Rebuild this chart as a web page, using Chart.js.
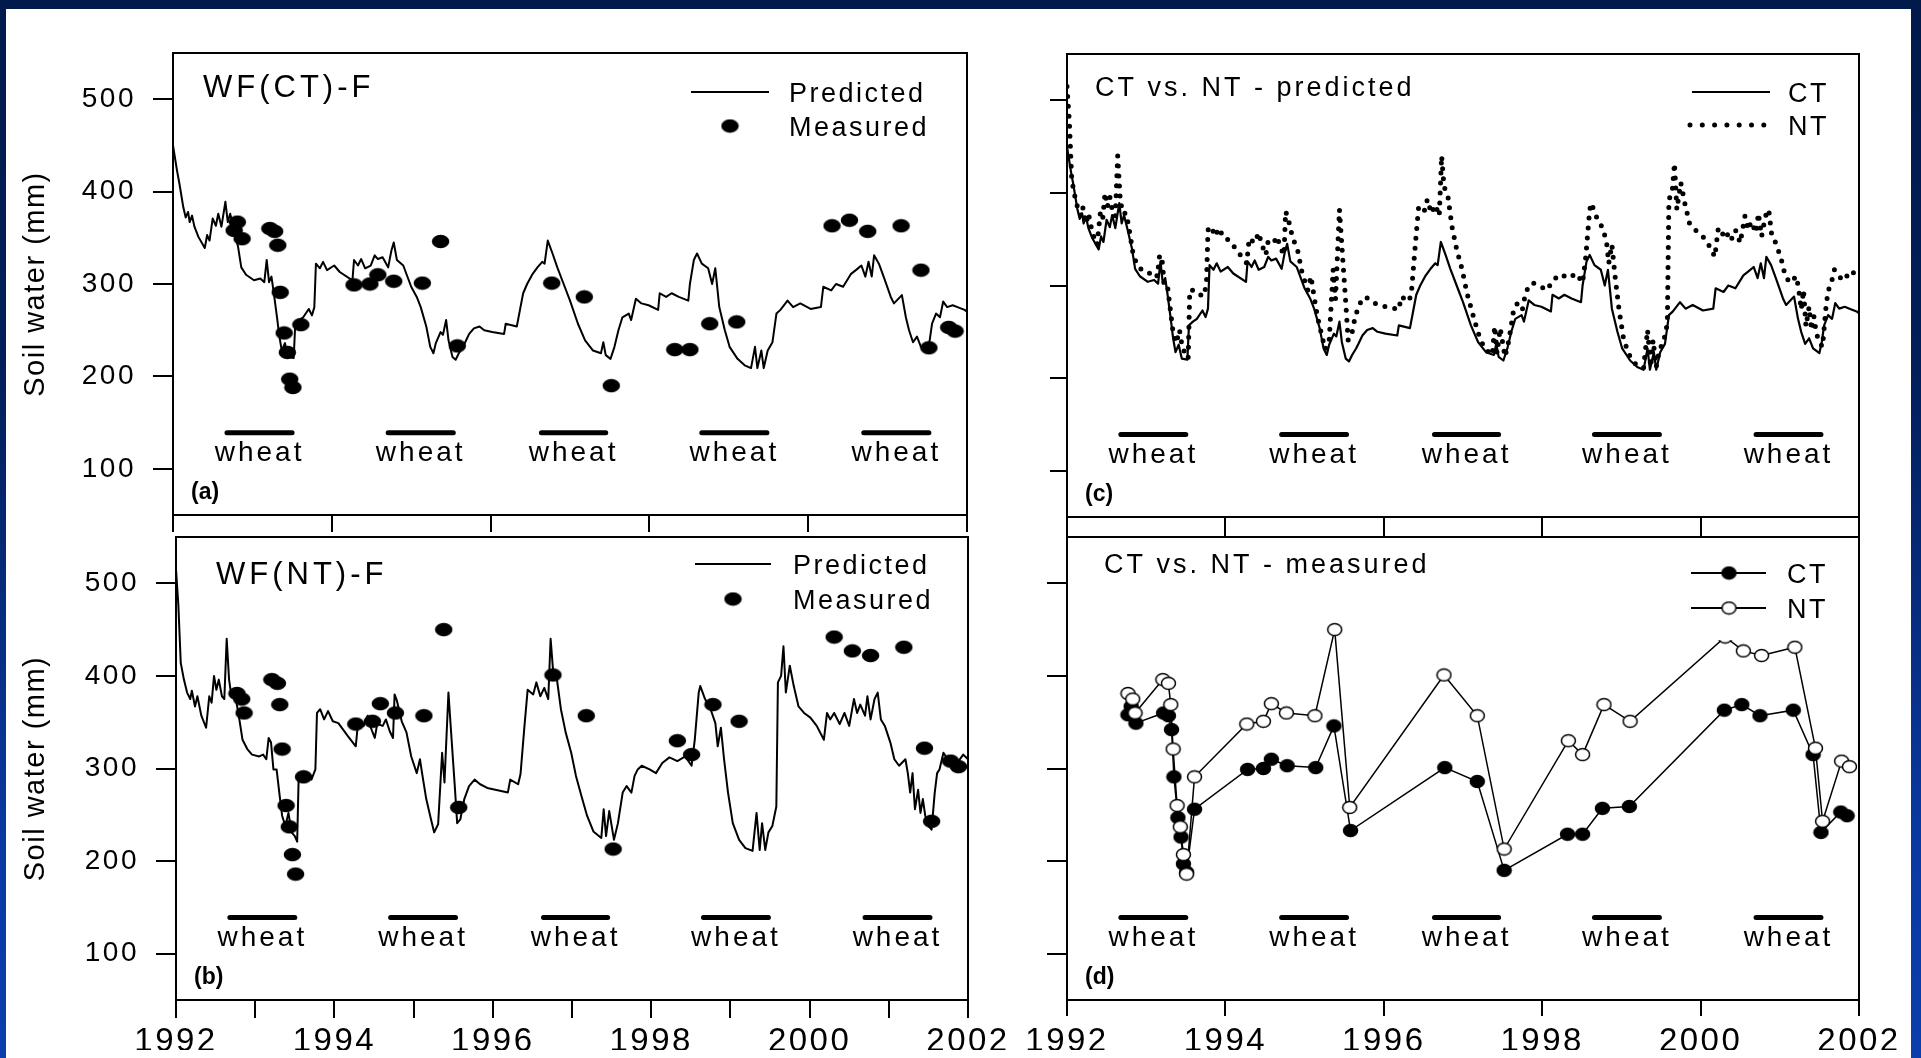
<!DOCTYPE html>
<html>
<head>
<meta charset="utf-8">
<script src="https://cdn.jsdelivr.net/npm/chart.js@4.4.0/dist/chart.umd.min.js"></script>
<style>
  html, body { margin: 0; padding: 0; }
  body {
    width: 1921px; height: 1058px; overflow: hidden; position: relative;
    background: linear-gradient(to bottom, #011a4b 0%, #021f5a 35%, #0a39a2 80%, #0b3dac 100%);
  }
  #sheet { position: absolute; left: 6px; top: 9px; width: 1905px; height: 1049px; background: #fff; }
  canvas { position: absolute; left: 0; top: 0; }
</style>
</head>
<body>
<div id="sheet"></div>
<canvas id="panelA" width="1921" height="1058"></canvas>
<canvas id="panelB" width="1921" height="1058"></canvas>
<canvas id="panelC" width="1921" height="1058"></canvas>
<canvas id="panelD" width="1921" height="1058"></canvas>
<script>
const FONT = '"Liberation Sans", Arial, sans-serif';

// Predicted soil water, conventional till (CT)
const ctPredYear = [1992.00,1992.05,1992.08,1992.13,1992.16,1992.19,1992.21,1992.24,1992.27,1992.32,
  1992.40,1992.43,1992.46,1992.50,1992.54,1992.57,1992.61,1992.66,1992.69,1992.72,
  1992.76,1992.82,1992.86,1992.92,1993.02,1993.10,1993.15,1993.18,1993.21,1993.24,
  1993.27,1993.31,1993.34,1993.37,1993.41,1993.45,1993.52,1993.54,1993.59,1993.64,
  1993.71,1993.75,1993.78,1993.80,1993.85,1993.89,1993.94,1994.03,1994.10,1994.26,
  1994.28,1994.33,1994.37,1994.42,1994.49,1994.54,1994.58,1994.64,1994.71,1994.75,
  1994.78,1994.82,1994.90,1995.00,1995.07,1995.12,1995.19,1995.24,1995.28,1995.31,
  1995.37,1995.40,1995.44,1995.47,1995.52,1995.56,1995.60,1995.65,1995.68,1995.73,
  1995.79,1995.86,1995.92,1996.02,1996.17,1996.19,1996.33,1996.37,1996.41,1996.46,
  1996.53,1996.59,1996.65,1996.68,1996.72,1996.78,1996.84,1996.92,1997.00,1997.10,
  1997.19,1997.29,1997.39,1997.42,1997.45,1997.51,1997.56,1997.61,1997.66,1997.74,
  1997.77,1997.83,1997.90,1997.99,1998.11,1998.13,1998.21,1998.28,1998.37,1998.49,
  1998.51,1998.56,1998.60,1998.66,1998.74,1998.79,1998.83,1998.88,1998.95,1999.01,
  1999.11,1999.20,1999.28,1999.33,1999.36,1999.41,1999.44,1999.49,1999.55,1999.60,
  1999.65,1999.74,1999.81,1999.90,2000.03,2000.16,2000.19,2000.29,2000.35,2000.44,
  2000.54,2000.60,2000.67,2000.72,2000.76,2000.80,2000.83,2000.89,2000.95,2001.04,
  2001.08,2001.18,2001.23,2001.27,2001.32,2001.37,2001.42,2001.50,2001.53,2001.56,
  2001.61,2001.66,2001.70,2001.75,2001.82,2001.88,2001.97,2002.00];
const ctPredSW = [450,423,409,383,372,378,367,374,362,351,
  339,353,347,371,363,376,362,389,367,376,
  362,340,318,310,304,306,302,326,302,308,
  290,264,243,228,236,221,220,257,261,264,
  273,266,275,322,317,324,315,320,313,304,
  326,320,327,317,320,331,327,329,318,336,
  345,326,320,297,286,275,254,232,225,236,
  248,245,261,239,221,218,225,232,237,246,
  252,254,250,248,246,257,254,272,290,300,
  311,318,324,322,347,333,318,300,282,257,
  239,228,225,237,223,219,232,250,264,268,
  261,284,279,277,272,290,286,290,286,282,
  300,326,333,322,317,300,317,275,250,232,
  219,212,209,232,209,228,209,228,237,268,
  272,282,275,279,273,275,297,293,300,297,
  311,315,320,308,324,308,331,322,308,286,
  279,288,264,250,237,243,232,227,239,257,
  268,264,281,275,277,275,272,270];

// Predicted soil water, no-till (NT)
const ntPredYear = [1992.00,1992.03,1992.06,1992.10,1992.14,1992.18,1992.20,1992.24,1992.27,1992.32,
  1992.38,1992.42,1992.45,1992.48,1992.51,1992.54,1992.58,1992.61,1992.64,1992.67,
  1992.70,1992.75,1992.80,1992.84,1992.90,1992.96,1993.05,1993.10,1993.14,1993.17,
  1993.20,1993.23,1993.27,1993.31,1993.34,1993.38,1993.42,1993.46,1993.50,1993.53,
  1993.55,1993.61,1993.66,1993.71,1993.76,1993.78,1993.82,1993.87,1993.92,1993.98,
  1994.05,1994.11,1994.17,1994.27,1994.30,1994.37,1994.42,1994.46,1994.51,1994.54,
  1994.61,1994.65,1994.70,1994.74,1994.76,1994.79,1994.85,1994.91,1994.97,1995.04,
  1995.08,1995.12,1995.16,1995.22,1995.26,1995.31,1995.36,1995.39,1995.44,1995.48,
  1995.52,1995.55,1995.59,1995.64,1995.70,1995.77,1995.84,1995.93,1996.09,1996.19,
  1996.22,1996.32,1996.35,1996.40,1996.44,1996.51,1996.55,1996.60,1996.65,1996.70,
  1996.73,1996.76,1996.81,1996.86,1996.92,1996.99,1997.05,1997.12,1997.19,1997.27,
  1997.37,1997.40,1997.43,1997.47,1997.53,1997.58,1997.64,1997.69,1997.75,1997.79,
  1997.83,1997.88,1997.98,1998.06,1998.14,1998.23,1998.33,1998.43,1998.51,1998.55,
  1998.60,1998.62,1998.68,1998.75,1998.81,1998.84,1998.88,1998.92,1998.97,1999.03,
  1999.11,1999.19,1999.28,1999.33,1999.37,1999.40,1999.44,1999.48,1999.53,1999.58,
  1999.60,1999.64,1999.67,1999.70,1999.75,1999.80,1999.86,1999.93,2000.01,2000.09,
  2000.18,2000.22,2000.26,2000.31,2000.38,2000.44,2000.50,2000.56,2000.60,2000.64,
  2000.70,2000.73,2000.77,2000.82,2000.86,2000.90,2000.95,2001.02,2001.07,2001.13,
  2001.21,2001.24,2001.27,2001.30,2001.33,2001.37,2001.40,2001.43,2001.46,2001.50,
  2001.54,2001.58,2001.61,2001.64,2001.69,2001.72,2001.77,2001.81,2001.88,2001.94,
  2002.00];
const ntPredSW = [515,476,414,396,382,375,384,367,378,357,
  344,378,371,400,385,396,378,375,440,396,
  378,378,353,331,321,315,313,315,310,333,
  328,299,299,270,249,238,252,231,227,221,
  295,295,292,288,299,360,364,353,362,351,
  349,342,335,324,351,346,357,344,333,348,
  346,353,340,333,380,373,351,339,313,295,
  310,288,267,245,231,240,317,285,382,331,
  281,241,245,267,281,288,283,279,276,274,
  288,283,294,346,385,380,393,378,387,375,
  440,407,396,364,339,317,292,270,249,232,
  225,256,227,254,223,241,274,281,274,292,
  299,303,299,295,306,312,308,313,303,331,
  382,389,375,364,349,324,344,310,274,241,
  223,214,211,252,212,241,212,231,238,259,
  393,400,432,382,411,389,367,360,355,346,
  331,360,353,360,348,360,346,375,360,369,
  357,378,353,375,382,353,346,328,310,303,
  310,295,274,295,256,277,252,267,249,238,
  234,274,295,299,317,313,308,313,308,315,
  310];

// Measured soil water
const ctMeasYear = [1992.77,1992.81,1992.87,1993.22,1993.28,1993.32,1993.35,1993.40,1993.44,1993.47,
  1993.51,1993.61,1994.28,1994.48,1994.58,1994.78,1995.14,1995.37,1995.58,1996.77,
  1997.18,1997.52,1998.32,1998.51,1998.76,1999.10,2000.30,2000.52,2000.75,2001.17,
  2001.42,2001.52,2001.77,2001.85];
const ctMeasSW = [358,367,349,360,357,342,291,247,226,197,
  188,256,299,300,310,303,301,346,233,301,
  286,190,229,229,257,259,363,369,357,363,
  315,231,253,249];
const ntMeasYear = [1992.77,1992.83,1992.86,1993.21,1993.28,1993.31,1993.34,1993.39,1993.43,1993.47,
  1993.51,1993.61,1994.27,1994.48,1994.58,1994.77,1995.13,1995.38,1995.57,1996.76,
  1997.18,1997.52,1998.33,1998.51,1998.78,1999.11,2000.31,2000.54,2000.77,2001.19,
  2001.45,2001.54,2001.78,2001.88];
const ntMeasSW = [381,375,360,396,392,369,321,260,237,207,
  186,291,348,351,370,360,357,450,258,401,
  357,213,330,315,369,351,442,427,422,431,
  322,243,308,302];

// Wheat growing seasons
const wheatStart = [1992.68, 1994.71, 1996.64, 1998.66, 2000.70];
const wheatEnd = [1993.50, 1995.53, 1997.45, 1999.48, 2001.52];
const wheatLevel = 139;
const wheatTextLevel = 108;

// Axis ticks
const yTickValues = [100, 200, 300, 400, 500];
const evenYears = [1992, 1994, 1996, 1998, 2000, 2002];
const allYears = [1992, 1993, 1994, 1995, 1996, 1997, 1998, 1999, 2000, 2001, 2002];
const yTitle = 'Soil water (mm)';

const pts = (xs, ys) => xs.map((x, i) => ({ x, y: ys[i] }));

function wheatSet() {
    const data = [];
    wheatStart.forEach((s, i) => {
        data.push({ x: s, y: wheatLevel }, { x: wheatEnd[i], y: wheatLevel }, { x: wheatEnd[i] + 0.01, y: null });
    });
    return { data, borderColor: '#000', borderWidth: 5, borderCapStyle: 'round', pointRadius: 0, order: 3 };
}

// marker images (the symbols in the figure are a bit wider than tall)
function ellipse(w, h, fill) {
    const c = document.createElement('canvas');
    c.width = w + 2; c.height = h + 2;
    const g = c.getContext('2d');
    g.beginPath();
    g.ellipse(c.width / 2, c.height / 2, w / 2 - 0.5, h / 2 - 0.5, 0, 0, Math.PI * 2);
    g.fillStyle = fill; g.fill();
    g.lineWidth = 1.5; g.strokeStyle = '#000'; g.stroke();
    return c;
}
const dotBig = ellipse(17, 13, '#000');
const dotFilled = ellipse(15, 13, '#000');
const dotOpen = ellipse(15, 13, '#fff');

// box, titles, legends and wheat labels
const panelDecor = {
    id: 'panelDecor',
    beforeDraw(chart) {
        chart.ctx.letterSpacing = '2.5px';
    },
    afterDatasetsDraw(chart, args, o) {
        const { ctx, chartArea: a, scales: { x, y } } = chart;
        ctx.save();
        ctx.fillStyle = '#000';
        ctx.strokeStyle = '#000';

        // wheat labels
        ctx.letterSpacing = '3px';
        ctx.font = `28px ${FONT}`;
        ctx.textAlign = 'center';
        ctx.textBaseline = 'alphabetic';
        wheatStart.forEach((s, i) => {
            ctx.fillText('wheat', x.getPixelForValue((s + wheatEnd[i]) / 2), y.getPixelForValue(wheatTextLevel));
        });

        // y axis title
        if (o.yTitle) {
            ctx.save();
            ctx.letterSpacing = '1.5px';
            ctx.font = `29px ${FONT}`;
            ctx.textBaseline = 'middle';
            ctx.translate(36, (a.top + a.bottom) / 2);
            ctx.rotate(-Math.PI / 2);
            ctx.fillText(yTitle, 0, 0);
            ctx.restore();
        }

        // legend
        if (o.legendBox) {
            ctx.fillStyle = '#fff';
            ctx.fillRect(...o.legendBox);
            ctx.fillStyle = '#000';
        }
        ctx.textAlign = 'left';
        ctx.letterSpacing = '2.5px';
        ctx.font = `27px ${FONT}`;
        o.legend.forEach(item => {
            if (item.x1 !== undefined) {
                ctx.beginPath();
                if (item.dotted) {
                    ctx.setLineDash([0, 12.3]);
                    ctx.lineCap = 'round';
                    ctx.lineWidth = 5;
                } else {
                    ctx.setLineDash([]);
                    ctx.lineCap = 'butt';
                    ctx.lineWidth = 2;
                }
                ctx.moveTo(item.x1, item.y);
                ctx.lineTo(item.x2, item.y);
                ctx.stroke();
                ctx.setLineDash([]);
            }
            if (item.mark) {
                ctx.drawImage(item.mark, item.mx - item.mark.width / 2, item.y - item.mark.height / 2);
            }
            ctx.fillText(item.text, o.legendX, item.y + 9.5);
        });

        // title
        ctx.letterSpacing = o.titleSpacing;
        ctx.font = `${o.titleSize}px ${FONT}`;
        ctx.fillText(o.title, a.left + o.titleDx, o.titleBase);

        // panel tag
        ctx.letterSpacing = '0px';
        ctx.font = `bold 23px ${FONT}`;
        ctx.fillText(o.tag, a.left + 18, a.bottom - 16);

        // frame
        ctx.lineWidth = 2;
        ctx.strokeRect(a.left, a.top, a.right - a.left, a.bottom - a.top);
        ctx.restore();
    }
};

function makePanel(id, rect, opts) {
    const W = 160, H = 50;
    return new Chart(document.getElementById(id), {
        type: 'line',
        data: { datasets: opts.datasets },
        options: {
            responsive: false,
            animation: false,
            events: [],
            layout: { padding: { left: rect.l - W, top: rect.t, right: 1921 - rect.r, bottom: 1058 - rect.b - H } },
            plugins: {
                legend: { display: false },
                tooltip: { enabled: false },
                panelDecor: opts.decor
            },
            scales: {
                x: {
                    type: 'linear',
                    min: 1992,
                    max: 2002,
                    afterBuildTicks: s => { s.ticks = opts.xTicks.map(v => ({ value: v })); },
                    ticks: {
                        display: opts.xLabels,
                        autoSkip: false,
                        maxRotation: 0,
                        minRotation: 0,
                        padding: opts.xPad,
                        color: '#000',
                        font: { family: FONT, size: 33, lineHeight: 1 },
                        callback: v => evenYears.includes(v) ? String(v) : ''
                    },
                    grid: { drawOnChartArea: false, tickLength: opts.xTick, color: '#000', lineWidth: 2 },
                    border: { display: false },
                    afterFit: s => { s.height = H; s.paddingLeft = 0; s.paddingRight = 0; }
                },
                y: {
                    min: 50,
                    max: 550,
                    afterBuildTicks: s => { s.ticks = yTickValues.map(v => ({ value: v })); },
                    ticks: {
                        display: opts.yLabels,
                        padding: 17,
                        color: '#000',
                        font: { family: FONT, size: 28, lineHeight: 1 }
                    },
                    grid: { drawOnChartArea: false, tickLength: opts.yTick, color: '#000', lineWidth: 2 },
                    border: { display: false },
                    afterFit: s => { s.width = W; s.paddingTop = 0; s.paddingBottom = 0; }
                }
            }
        },
        plugins: [panelDecor]
    });
}

// (a) WF(CT)-F
makePanel('panelA', { l: 173, t: 53, r: 967, b: 515 }, {
    xTicks: evenYears, xLabels: false, xTick: 17, xPad: 0,
    yLabels: true, yTick: 20,
    datasets: [
        { data: pts(ctMeasYear, ctMeasSW), showLine: false, pointStyle: dotBig, pointRadius: 8, order: 0 },
        { data: pts(ctPredYear, ctPredSW), borderColor: '#000', borderWidth: 2, borderJoinStyle: 'round', pointRadius: 0, order: 1 },
        wheatSet()
    ],
    decor: {
        title: 'WF(CT)-F', titleSize: 31, titleSpacing: '4px', titleDx: 30, titleBase: 97, tag: '(a)', yTitle: true,
        legendX: 789,
        legend: [
            { text: 'Predicted', y: 92, x1: 691, x2: 769 },
            { text: 'Measured', y: 126, mark: dotBig, mx: 730 }
        ]
    }
});

// (b) WF(NT)-F
makePanel('panelB', { l: 176, t: 537, r: 968, b: 1000 }, {
    xTicks: allYears, xLabels: true, xTick: 18, xPad: 7,
    yLabels: true, yTick: 20,
    datasets: [
        { data: pts(ntMeasYear, ntMeasSW), showLine: false, pointStyle: dotBig, pointRadius: 8, order: 0 },
        { data: pts(ntPredYear, ntPredSW), borderColor: '#000', borderWidth: 2, borderJoinStyle: 'round', pointRadius: 0, order: 1 },
        wheatSet()
    ],
    decor: {
        title: 'WF(NT)-F', titleSize: 31, titleSpacing: '4px', titleDx: 40, titleBase: 584, tag: '(b)', yTitle: true,
        legendX: 793,
        legend: [
            { text: 'Predicted', y: 564, x1: 695, x2: 771 },
            { text: 'Measured', y: 599, mark: dotBig, mx: 733 }
        ]
    }
});

// (c) CT vs. NT - predicted
makePanel('panelC', { l: 1067, t: 54, r: 1859, b: 517 }, {
    xTicks: evenYears, xLabels: false, xTick: 20, xPad: 0,
    yLabels: false, yTick: 17,
    datasets: [
        { data: pts(ntPredYear, ntPredSW), borderColor: '#000', borderWidth: 5, borderDash: [0, 10], borderCapStyle: 'round', pointRadius: 0, order: 0 },
        { data: pts(ctPredYear, ctPredSW), borderColor: '#000', borderWidth: 2.2, borderJoinStyle: 'round', pointRadius: 0, order: 1 },
        wheatSet()
    ],
    decor: {
        title: 'CT vs. NT - predicted', titleSize: 27, titleSpacing: '3px', titleDx: 28, titleBase: 96, tag: '(c)',
        legendX: 1788,
        legend: [
            { text: 'CT', y: 92, x1: 1692, x2: 1770 },
            { text: 'NT', y: 125, x1: 1690, x2: 1765, dotted: true }
        ]
    }
});

// (d) CT vs. NT - measured
makePanel('panelD', { l: 1067, t: 537, r: 1859, b: 1000 }, {
    xTicks: evenYears, xLabels: true, xTick: 16, xPad: 9,
    yLabels: false, yTick: 20,
    datasets: [
        { data: pts(ntMeasYear, ntMeasSW), borderColor: '#000', borderWidth: 1.5, pointStyle: dotOpen, pointRadius: 8, order: 0 },
        { data: pts(ctMeasYear, ctMeasSW), borderColor: '#000', borderWidth: 1.5, pointStyle: dotFilled, pointRadius: 8, order: 1 },
        wheatSet()
    ],
    decor: {
        title: 'CT vs. NT - measured', titleSize: 27, titleSpacing: '3px', titleDx: 37, titleBase: 573, tag: '(d)',
        legendX: 1787,
        legendBox: [1676, 545, 181, 95],
        legend: [
            { text: 'CT', y: 573, x1: 1691, x2: 1766, mark: dotFilled, mx: 1729 },
            { text: 'NT', y: 608, x1: 1691, x2: 1766, mark: dotOpen, mx: 1729 }
        ]
    }
});
</script>
</body>
</html>
